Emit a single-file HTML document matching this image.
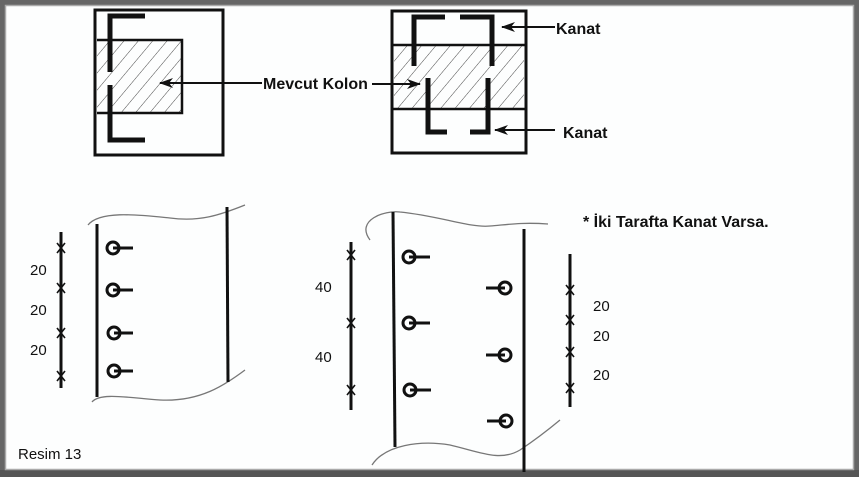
<!DOCTYPE html>
<html><head><meta charset="utf-8"><style>
html,body{margin:0;padding:0;background:#fff}
svg{display:block}
text{font-family:"Liberation Sans",sans-serif;fill:#111}
</style></head><body>
<svg width="859" height="477" viewBox="0 0 859 477" xmlns="http://www.w3.org/2000/svg">
<defs>
<pattern id="h" patternUnits="userSpaceOnUse" width="11" height="11" patternTransform="rotate(40)">
<line x1="0" y1="0" x2="0" y2="11" stroke="#333" stroke-width="0.9"/>
</pattern>
<marker id="a" markerWidth="14" markerHeight="10" refX="13" refY="5" orient="auto" markerUnits="userSpaceOnUse"><path d="M0,0 L14,5 L0,10 L4,5z" fill="#111"/></marker>
</defs>
<rect x="0" y="0" width="859" height="477" fill="#fdfefe"/>
<!-- frame -->
<rect x="2.5" y="2.5" width="854" height="472" fill="none" stroke="#666" stroke-width="5"/>
<rect x="0" y="470" width="859" height="7" fill="#555"/>
<rect x="5.5" y="5.5" width="848" height="464" fill="none" stroke="#aaa" stroke-width="1.5"/>
<g stroke="#111" fill="none">
<!-- top-left -->
<rect x="95" y="10" width="128" height="145" stroke-width="3"/>
<rect x="97" y="40" width="85" height="73" fill="url(#h)" stroke="none"/>
<path d="M97 40 H182 V113 H97" stroke-width="2.5"/>
<path d="M145 16 H110 V72 M110 85 V140 H145" stroke-width="5"/>
<line x1="262" y1="83" x2="160" y2="83" stroke-width="2" marker-end="url(#a)"/>
<!-- top-right -->
<rect x="392" y="11" width="134" height="142" stroke-width="3"/>
<rect x="394" y="45" width="130" height="64" fill="url(#h)" stroke="none"/>
<line x1="392" y1="45" x2="526" y2="45" stroke-width="2.5"/>
<line x1="392" y1="109" x2="526" y2="109" stroke-width="2.5"/>
<path d="M445 17 H414 V66 M460 17 H492 V66" stroke-width="5"/>
<path d="M428 78 V132 H447 M488 78 V132 H470" stroke-width="5"/>
<line x1="372" y1="84" x2="420" y2="84" stroke-width="2" marker-end="url(#a)"/>
<line x1="555" y1="27" x2="502" y2="27" stroke-width="2" marker-end="url(#a)"/>
<line x1="555" y1="130" x2="495" y2="130" stroke-width="2" marker-end="url(#a)"/>
<!-- bottom-left -->
<path d="M88 225 C100 210 140 215 170 218 C200 222 220 215 245 205" stroke="#777" stroke-width="1.3"/>
<path d="M92 402 C100 392 130 398 160 400 C200 402 225 385 245 370" stroke="#777" stroke-width="1.3"/>
<line x1="97" y1="224" x2="97" y2="397" stroke-width="3"/>
<line x1="227" y1="207" x2="228" y2="382" stroke-width="3"/>
<g stroke-width="3">
<circle cx="113" cy="248" r="6"/><line x1="113" y1="248" x2="133" y2="248"/>
<circle cx="113" cy="290" r="6"/><line x1="113" y1="290" x2="133" y2="290"/>
<circle cx="114" cy="333" r="6"/><line x1="114" y1="333" x2="133" y2="333"/>
<circle cx="114" cy="371" r="6"/><line x1="114" y1="371" x2="133" y2="371"/>
</g>
<line x1="61" y1="232" x2="61" y2="388" stroke-width="3"/>
<!-- bottom-middle -->
<path d="M370 240 C355 220 385 210 400 212 C440 216 470 228 490 226 C505 225 520 222 548 224" stroke="#777" stroke-width="1.3"/>
<path d="M372 465 C385 445 420 440 450 445 C480 452 500 462 520 450 C535 440 548 430 560 420" stroke="#777" stroke-width="1.3"/>
<line x1="393" y1="212" x2="395" y2="447" stroke-width="3"/>
<line x1="524" y1="229" x2="524" y2="472" stroke-width="3"/>
<g stroke-width="3">
<circle cx="409" cy="257" r="6"/><line x1="409" y1="257" x2="430" y2="257"/>
<circle cx="409" cy="323" r="6"/><line x1="409" y1="323" x2="430" y2="323"/>
<circle cx="410" cy="390" r="6"/><line x1="410" y1="390" x2="431" y2="390"/>
<circle cx="505" cy="288" r="6"/><line x1="486" y1="288" x2="505" y2="288"/>
<circle cx="505" cy="355" r="6"/><line x1="486" y1="355" x2="505" y2="355"/>
<circle cx="506" cy="421" r="6"/><line x1="487" y1="421" x2="506" y2="421"/>
</g>
<line x1="351" y1="242" x2="351" y2="410" stroke-width="3"/>
<line x1="570" y1="254" x2="570" y2="407" stroke-width="3"/>
</g>
<!-- x marks -->
<g stroke="#111" stroke-width="1.6">
<path d="M57 243 l8 10 M65 243 l-8 10 M57 283 l8 10 M65 283 l-8 10 M57 328 l8 10 M65 328 l-8 10 M57 371 l8 10 M65 371 l-8 10"/>
<path d="M347 250 l8 10 M355 250 l-8 10 M347 318 l8 10 M355 318 l-8 10 M347 385 l8 10 M355 385 l-8 10"/>
<path d="M566 285 l8 10 M574 285 l-8 10 M566 315 l8 10 M574 315 l-8 10 M566 347 l8 10 M574 347 l-8 10 M566 383 l8 10 M574 383 l-8 10"/>
</g>
<g font-size="15">
<text x="263" y="89" font-weight="bold" font-size="16">Mevcut Kolon</text>
<text x="556" y="34" font-weight="bold" font-size="16">Kanat</text>
<text x="563" y="138" font-weight="bold" font-size="16">Kanat</text>
<text x="583" y="227" font-weight="bold" font-size="16">* İki Tarafta Kanat Varsa.</text>
<text x="30" y="275">20</text>
<text x="30" y="315">20</text>
<text x="30" y="355">20</text>
<text x="315" y="292">40</text>
<text x="315" y="362">40</text>
<text x="593" y="311">20</text>
<text x="593" y="341">20</text>
<text x="593" y="380">20</text>
<text x="18" y="459">Resim 13</text>
</g>
</svg>
</body></html>
